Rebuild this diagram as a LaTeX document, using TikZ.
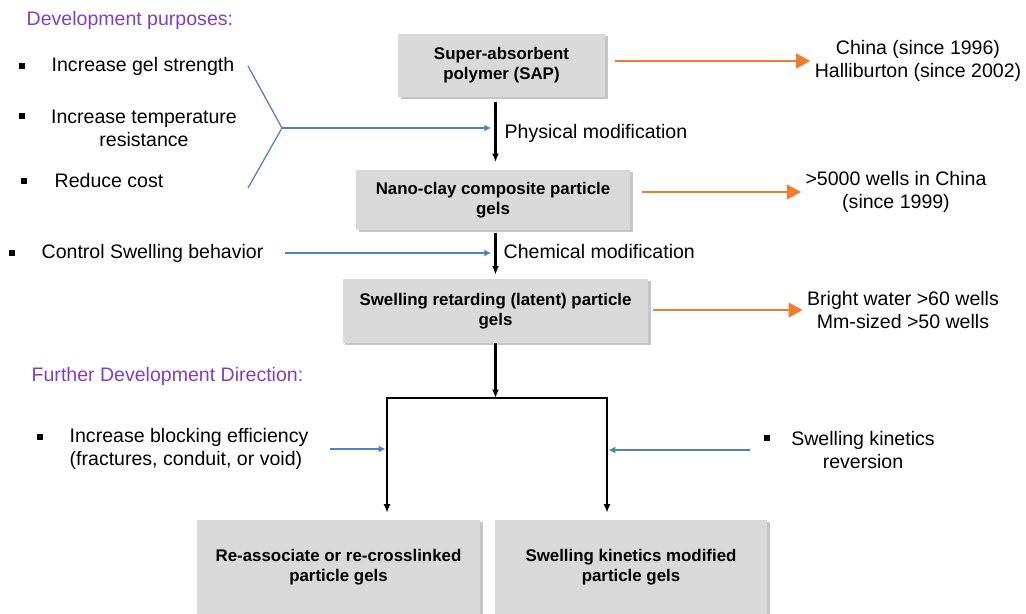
\documentclass[tikz,border=0pt]{standalone}
\usepackage{fontspec}
\setmainfont{Liberation Sans}
\usetikzlibrary{arrows.meta, shadows}
\definecolor{purp}{HTML}{7F3FBF}
\definecolor{bluel}{HTML}{4F81BD}
\definecolor{orng}{HTML}{ED7D31}
\definecolor{boxgray}{HTML}{D9D9D9}

\begin{document}
\begin{tikzpicture}[x=0.025cm, y=-0.025cm,
    box/.style={fill=boxgray, align=center, font=\fontsize{12}{14.2}\selectfont\bfseries,
      drop shadow={shadow xshift=1.8pt, shadow yshift=-1.2pt, fill=black!45, opacity=0.5}},
    txt/.style={font=\fontsize{13.9}{16.3}\selectfont, inner sep=1pt},
    purphead/.style={txt, text=purp},
    sq/.style={fill=black, minimum size=3.6pt, inner sep=0pt},
    main/.style={line width=1.6pt, -{Latex[length=6pt,width=5pt]}},
    side/.style={bluel, line width=0.9pt, -{Latex[length=5pt,width=5pt]}},
    usage/.style={orng, line width=1.5pt, -{Triangle[length=10pt,width=10.5pt]}}]

      \useasboundingbox (0,0) rectangle (1026,613);

      \node[purphead, anchor=west] (devhead) at (25,20) {Development purposes:};

      \node[sq] (b1) at (22,66) {};
      \node[txt, anchor=west] (gel) at (50,66) {Increase gel strength};
      \node[sq] (b2) at (22,116) {};
      \node[txt, align=center] (temp) at (144,128) {Increase temperature\\resistance};
      \node[sq] (b3) at (24,181) {};
      \node[txt, anchor=west] (cost) at (53,181) {Reduce cost};

      \node[box, minimum width=5.175cm, minimum height=1.575cm] (sap) at (501.5,65.5) {Super-absorbent\\polymer (SAP)};
      \node[box, minimum width=6.85cm, minimum height=1.5cm] (nano) at (493,200) {Nano-clay composite particle\\gels};
      \node[box, minimum width=7.625cm, minimum height=1.6cm] (retard) at (495.5,311) {Swelling retarding (latent) particle\\gels};

      \draw[main, shorten <=3.5pt, shorten >=5.5pt] (sap.south -| retard.north) -- (nano.north -| retard.north);
      \draw[main, shorten <=2pt, shorten >=3pt] (nano.south -| retard.north) -- (retard.north);

      \coordinate (fanT) at (248,66);
      \coordinate (fanM) at (282,128);
      \coordinate (fanB) at (248,188);
      \draw[bluel, line width=0.9pt] (fanT) -- (fanM) -- (fanB);
      \draw[side, shorten >=3pt] (fanM) -- (fanM -| retard.north);
      \node[txt, anchor=west] (phys) at (503,133) {Physical modification};

      \node[sq] (b4) at (12,253) {};
      \node[txt, anchor=west] (ctrl) at (40,253) {Control Swelling behavior};
      \draw[side, shorten <=14pt, shorten >=3pt] (ctrl.east) -- (ctrl.east -| retard.north);
      \node[txt, anchor=west] (chem) at (502,252) {Chemical modification};

      \node[txt, align=center] (china) at (918,61) {China (since 1996)\\Halliburton (since 2002)};
      \draw[usage, shorten <=7pt, shorten >=2pt] (sap.east |- china.west) -- (china.west);

      \node[txt, align=center] (wells) at (896,192) {>5000 wells in China\\(since 1999)};
      \draw[usage, shorten <=8pt, shorten >=2pt] (nano.east |- wells.west) -- (wells.west);

      \node[txt, align=center] (bright) at (903,310) {Bright water >60 wells\\Mm-sized >50 wells};
      \draw[usage, shorten <=3pt, shorten >=2pt] (retard.east |- bright.west) -- (bright.west);

      \node[purphead, anchor=west] (furhead) at (30,376) {Further Development Direction:};

      \node[box, minimum width=7.075cm, minimum height=2.35cm] (reassoc) at (338.5,567) {Re-associate or re-crosslinked\\particle gels};
      \node[box, minimum width=6.8cm, minimum height=2.35cm] (kinmod) at (631,567) {Swelling kinetics modified\\particle gels};

      \coordinate (split) at (495.5,398);
      \coordinate (barL) at (387,398);
      \coordinate (barR) at (607,398);
      \draw[main] (retard.south) -- (split);
      \draw[main, shorten >=5pt] (split) -- (barL) -- (barL |- reassoc.north);
      \draw[main, shorten >=5pt] (split) -- (barR) -- (barR |- kinmod.north);

      \node[sq] (b5) at (40,437) {};
      \node[txt, align=left, anchor=west] (block) at (68,449) {Increase blocking efficiency\\(fractures, conduit, or void)};
      \draw[side, shorten <=14pt, shorten >=1pt] (block.east) -- (block.east -| barL);

      \node[sq] (b6) at (767,438) {};
      \node[txt, align=center] (kin) at (863,450) {Swelling kinetics\\reversion};
      \draw[side, shorten <=28pt, shorten >=1pt] (kin.west) -- (kin.west -| barR);

    \end{tikzpicture}
\end{document}
